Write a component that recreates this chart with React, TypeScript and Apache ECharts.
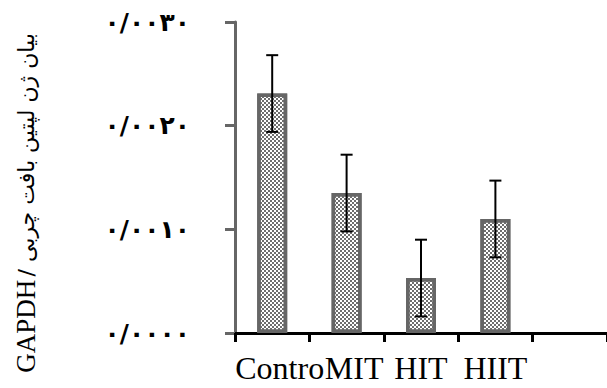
import React, { useEffect, useRef } from "react";
import * as echarts from "echarts";

const categories = ["Control", "MIT", "HIT", "HIIT", ""];
const labelShift = [15, 15, 0, 0, 0];
const barValues = [0.00231, 0.00135, 0.00053, 0.0011];
const errorValues = [0.00037, 0.00037, 0.00037, 0.00037];
const yTickLabels = ["۰/۰۰۰۰", "۰/۰۰۱۰", "۰/۰۰۲۰", "۰/۰۰۳۰"];
const titleLatin = "GAPDH";
const titlePersian = "/ بیان ژن لپتین بافت چربی";

export default function App() {
  const ref = useRef<HTMLDivElement>(null);
  useEffect(() => {
    if (!ref.current) return;
    const chart = echarts.init(ref.current, null, { renderer: "svg" });
    const errData = barValues.map((v, i) => [i, v - errorValues[i], v + errorValues[i]]);
    chart.setOption({
      animation: false,
      grid: { left: 235, right: 0, top: 22, bottom: 55, containLabel: false },
      xAxis: {
        type: "category",
        data: categories.map((c, i) => ({
          value: c,
          textStyle:
            i === 0
              ? { padding: [0, 0, 0, labelShift[i]], width: 94, overflow: "truncate", ellipsis: "" }
              : { padding: [0, 0, 0, labelShift[i]] },
        })),
        axisLine: { lineStyle: { color: "#000", width: 3 } },
        axisTick: { show: true, length: 9, lineStyle: { color: "#000", width: 3 } },
        axisLabel: {
          interval: 0,
          color: "#000",
          fontFamily: "Liberation Serif",
          fontSize: 32,
          margin: 19,
        },
      },
      yAxis: {
        type: "value",
        min: 0,
        max: 0.003,
        interval: 0.001,
        splitLine: { show: false },
        axisLine: { show: true, lineStyle: { color: "#666", width: 3 } },
        axisTick: { show: true, length: 10, lineStyle: { color: "#666", width: 3 } },
        axisLabel: {
          color: "#000",
          fontFamily: "DejaVu Sans",
          fontWeight: "bold",
          fontSize: 25,
          margin: 45,
          formatter: (_v: number, idx: number) => yTickLabels[idx] ?? "",
        },
      },
      graphic: [
        {
          type: "text",
          x: 26,
          y: 203,
          rotation: Math.PI / 2,
          style: {
            text: `{a|${titleLatin}} {b|${titlePersian}}`,
            align: "center",
            verticalAlign: "middle",
            rich: {
              a: { fontFamily: "Liberation Serif", fontSize: 27, fill: "#000" },
              b: { fontFamily: "DejaVu Sans", fontSize: 22, fill: "#000" },
            },
          },
        },
      ],
      series: [
        {
          type: "bar",
          data: barValues,
          barWidth: 30,
          itemStyle: {
            color: "#ffffff",
            borderColor: "#666666",
            borderWidth: 3.5,
            decal: {
              symbol: "rect",
              symbolSize: 1,
              color: "#6e6e6e",
              dashArrayX: [
                [2, 2],
                [0, 2, 2, 0],
              ],
              dashArrayY: [2, 0],
              rotation: 0,
            },
          },
        },
        {
          type: "custom",
          data: errData,
          z: 10,
          renderItem: (params: any, api: any) => {
            const x = api.value(0);
            const lo = api.coord([x, api.value(1)]);
            const hi = api.coord([x, api.value(2)]);
            const cap = 6;
            const style = { stroke: "#000", lineWidth: 2 };
            return {
              type: "group",
              children: [
                { type: "line", shape: { x1: hi[0], y1: hi[1], x2: lo[0], y2: lo[1] }, style },
                { type: "line", shape: { x1: hi[0] - cap, y1: hi[1], x2: hi[0] + cap, y2: hi[1] }, style },
                { type: "line", shape: { x1: lo[0] - cap, y1: lo[1], x2: lo[0] + cap, y2: lo[1] }, style },
              ],
            };
          },
        },
      ],
    });
    return () => chart.dispose();
  }, []);
  return (
    <div
      ref={ref}
      style={{ position: "absolute", left: 0, top: 0, width: 607, height: 388 }}
    />
  );
}
